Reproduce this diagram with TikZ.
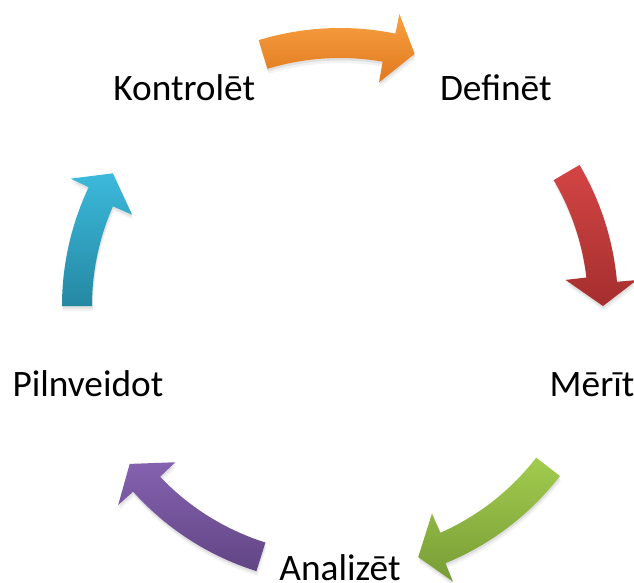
\documentclass[tikz,border=0pt]{standalone}
\usepackage{fontspec}
\setmainfont{Carlito}

% Colour pairs for the shaded cycle arrows (lighter top, darker bottom)
\definecolor{orangeL}{HTML}{F8A142}
\definecolor{orangeD}{HTML}{E0781E}
\definecolor{redL}{HTML}{D44545}
\definecolor{redD}{HTML}{A52E2E}
\definecolor{greenL}{HTML}{A2CC4E}
\definecolor{greenD}{HTML}{789C36}
\definecolor{purpleL}{HTML}{8562B0}
\definecolor{purpleD}{HTML}{614584}
\definecolor{tealL}{HTML}{3CB9DB}
\definecolor{tealD}{HTML}{2588A3}

% Curved block arrow running clockwise along the ring:
% #1 tail angle, #2 tip angle, #3 light colour, #4 dark colour
\newcommand\ringarrowpath[2]{%
  (#1:278) arc[start angle=#1, end angle=\outb, radius=278]
  -- (\outb:298) -- (#2:263) -- (\inb:227) -- (\inb:248)
  arc[start angle=\inb, end angle=#1, radius=248] -- cycle}
\newcommand\ringarrow[4]{%
  \pgfmathsetmacro\outb{#2+5}%
  \pgfmathsetmacro\inb{#2+6.6}%
  \fill[black, opacity=0.05, shift={(1,-5)}] \ringarrowpath{#1}{#2};
  \fill[black, opacity=0.07, shift={(0.5,-2.5)}] \ringarrowpath{#1}{#2};
  \shade[top color=#3, bottom color=#4] \ringarrowpath{#1}{#2};
}

\tikzset{
  steplabel/.style={anchor=base, yshift=-6.75pt, inner sep=0pt,
    font=\fontsize{28}{33}\selectfont, text=black}
}

\begin{document}
\begin{tikzpicture}[x=0.75pt, y=0.75pt]
  \clip (-340,-276) rectangle (294,306);
  \fill[white] (-340,-276) rectangle (294,306);

  % arrows between the steps
  \ringarrow{107}{73.5}{orangeL}{orangeD}
  \ringarrow{30.5}{0}{redL}{redD}
  \ringarrow{-37.7}{-72.7}{greenL}{greenD}
  \ringarrow{-107.5}{-143.1}{purpleL}{purpleD}
  \ringarrow{180}{149.7}{tealL}{tealD}

  % step labels on the ring
  \node[steplabel] (def) at (54:265)  {Definēt};
  \node[steplabel] (mer) at (-18:265) {Mērīt};
  \node[steplabel] (ana) at (-90:265) {Analizēt};
  \node[steplabel] (pil) at (198:265) {Pilnveidot};
  \node[steplabel] (kon) at (126:265) {Kontrolēt};
\end{tikzpicture}
\end{document}
